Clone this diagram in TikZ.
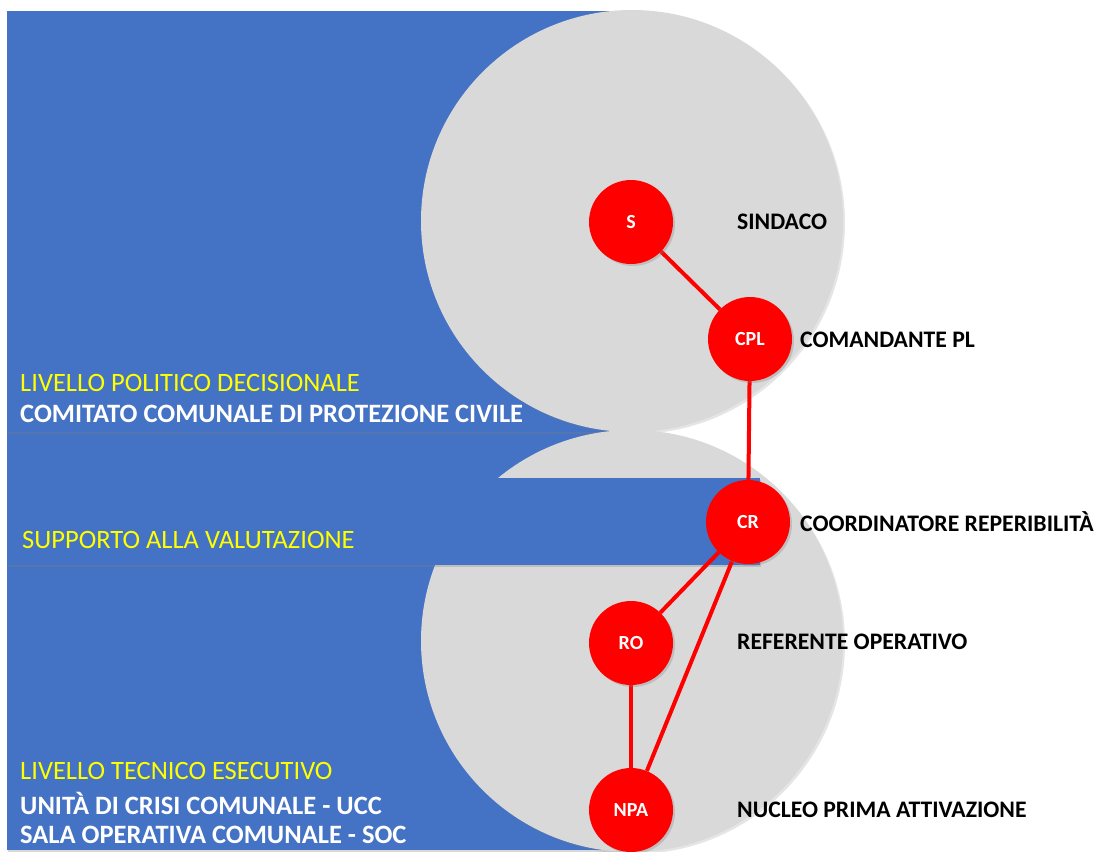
\documentclass[tikz,border=0pt]{standalone}
\usepackage{fontspec}
\setmainfont{Carlito}
\usetikzlibrary{shadows}
\definecolor{panelblue}{HTML}{4472C4}
\definecolor{ringgray}{HTML}{D9D9D9}
\definecolor{rolered}{HTML}{FF0000}
\definecolor{levelyellow}{HTML}{FFFF00}
\pgfdeclarelayer{back}
\pgfdeclarelayer{links}
\pgfsetlayers{back,links,main}
\begin{document}
\begin{tikzpicture}[x=1pt,y=-1pt,
  panel/.style={fill=panelblue, draw=none, drop shadow={opacity=0.3, shadow xshift=1pt, shadow yshift=-2pt}},
  ring/.style={circle, fill=ringgray, draw=none, minimum size=422pt, inner sep=0pt,
    drop shadow={opacity=0.2, shadow xshift=2pt, shadow yshift=-2pt}},
  role/.style={circle, fill=rolered, draw=none, minimum size=84pt, inner sep=0pt, text=white,
    font=\bfseries\fontsize{20}{20}\selectfont,
    drop shadow={opacity=0.3, shadow xshift=2pt, shadow yshift=-2pt}},
  link/.style={draw=rolered, line width=4pt},
  tag/.style={anchor=west, inner sep=0pt, font=\bfseries\fontsize{23.7}{24}\selectfont},
  lvl/.style={anchor=west, inner sep=0pt, text=levelyellow, font=\fontsize{26.5}{27}\selectfont},
  unit/.style={anchor=west, inner sep=0pt, text=white, font=\bfseries\fontsize{26.5}{27}\selectfont}]
\useasboundingbox (0,0) rectangle (1096,852);

\begin{pgfonlayer}{back}
  \fill[white] (0,0) rectangle (1096,852);
  % blue panels behind the rings
  \path[panel] (7,432) rectangle (632,850);
  \path[panel] (7,11) rectangle (632,432);
  % the two rings
  \node[ring] (ringtop) at (632,221) {};
  \node[ring] (ringbot) at (632,641) {};
  % evaluation support band across the lower ring
  \path[panel] (7,478) rectangle (760,565);
\end{pgfonlayer}

% role nodes
\node[role] (S)   at (631,222) {S};
\node[role] (CPL) at (750,339) {CPL};
\node[role] (CR)  at (748,522) {CR};
\node[role] (RO)  at (631,643) {RO};
\node[role] (NPA) at (631,810) {NPA};

% links between roles
\begin{pgfonlayer}{links}
  \draw[link] (S) -- (CPL);
  \draw[link] (CPL) -- (CR);
  \draw[link] (CR) -- (RO);
  \draw[link] (CR) -- (NPA);
  \draw[link] (RO) -- (NPA);
\end{pgfonlayer}

% role names
\node[tag] (tS)   at (737,222) {SINDACO};
\node[tag] (tCPL) at (800,340) {COMANDANTE PL};
\node[tag] (tCR)  at (800,522) {COORDINATORE REPERIBILITÀ};
\node[tag] (tRO)  at (737,642) {REFERENTE OPERATIVO};
\node[tag] (tNPA) at (737,810) {NUCLEO PRIMA ATTIVAZIONE};

% level captions
\node[lvl]  (l1) at (20,383) {LIVELLO POLITICO DECISIONALE};
\node[unit] (u1) at (20,414) {COMITATO COMUNALE DI PROTEZIONE CIVILE};
\node[lvl]  (l2) at (22,540) {SUPPORTO ALLA VALUTAZIONE};
\node[lvl]  (l3) at (20,771) {LIVELLO TECNICO ESECUTIVO};
\node[unit] (u2) at (20,803) {UNITÀ DI CRISI COMUNALE - UCC};
\node[unit] (u3) at (20,835) {SALA OPERATIVA COMUNALE - SOC};
\end{tikzpicture}
\end{document}
